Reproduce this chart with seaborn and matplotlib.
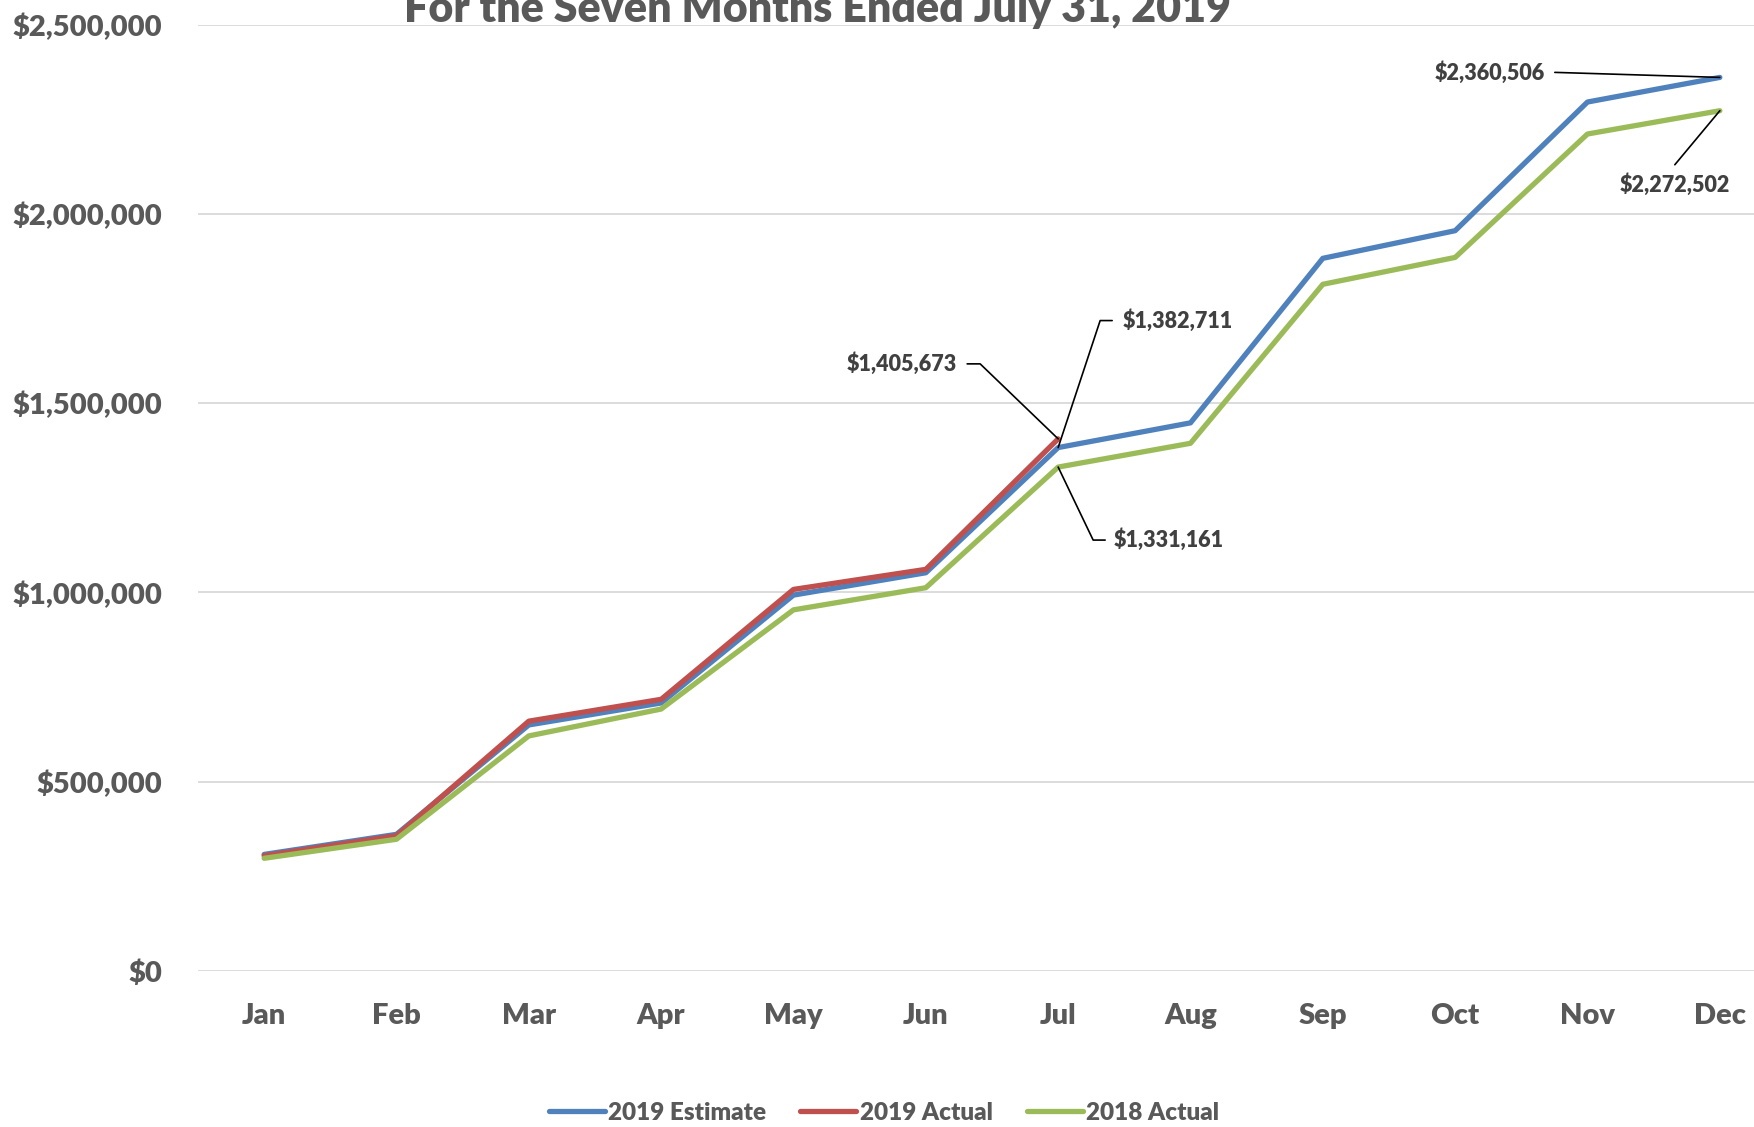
import math
import numpy as np
import pandas as pd
import matplotlib
matplotlib.use('Agg')
import matplotlib.pyplot as plt
from matplotlib.lines import Line2D
import seaborn as sns

# -- data --
MONTHS = ["Jan", "Feb", "Mar", "Apr", "May", "Jun",
          "Jul", "Aug", "Sep", "Oct", "Nov", "Dec"]
EST_2019 = [308000, 361000, 650000, 708000, 993000, 1052000,
            1382711, 1448000, 1882600, 1955600, 2295500, 2360506]
ACT_2019 = [304600, 357500, 660000, 717700, 1008000, 1061000, 1405673]
ACT_2018 = [297700, 348000, 621000, 692000, 954000, 1012500,
            1331161, 1394000, 1814000, 1885000, 2211000, 2272502]
SERIES = ["2019 Estimate", "2019 Actual", "2018 Actual"]
Y_TICKS = [0, 500000, 1000000, 1500000, 2000000, 2500000]
TITLE = "For the Seven Months Ended July 31, 2019"

COLORS = {
    "2019 Estimate": "#4F81BD",
    "2019 Actual":   "#C0504D",
    "2018 Actual":   "#9BBB59",
}
TXT = "#595959"
FONT = ["Lato", "DejaVu Sans"]

rows = []
for name, vals in zip(SERIES, [EST_2019, ACT_2019, ACT_2018]):
    for m, v in zip(MONTHS, vals):
        rows.append({"month": m, "value": v, "series": name})
df = pd.DataFrame(rows)

sns.set_theme(style="white")
plt.rcParams['font.family'] = FONT

fig = plt.figure(figsize=(17.54, 11.27), dpi=100)
ax = fig.add_axes([0.11288, 0.13842, 0.90536, 0.83975])

sns.lineplot(data=df, x="month", y="value", hue="series", hue_order=SERIES,
             palette=COLORS, linewidth=3.8, sort=False, ax=ax, legend=False,
             solid_capstyle="round")

ax.set_xlim(-0.5, len(MONTHS) - 0.5)
ax.set_ylim(Y_TICKS[0], Y_TICKS[-1])
ax.set_yticks(Y_TICKS)
ax.set_yticklabels([f"${v:,.0f}" for v in Y_TICKS])
ax.set_xticks(range(len(MONTHS)))
ax.set_xticklabels(MONTHS)
ax.set_xlabel("")
ax.set_ylabel("")
for lbl in ax.get_xticklabels() + ax.get_yticklabels():
    lbl.set_fontweight("heavy")
    lbl.set_color(TXT)
    lbl.set_fontsize(21)
ax.tick_params(axis="x", length=0, pad=23)
ax.tick_params(axis="y", length=0, pad=26)
for s in ax.spines.values():
    s.set_visible(False)
ax.yaxis.grid(True, color="#d9d9d9", linewidth=1.3)
ax.set_axisbelow(True)


def callout(i, val, text, ex, ey, sx, ha, gap=10):
    # leader from data point to elbow (ex, ey), then a short flat stub to sx
    ang = math.degrees(math.atan2(ey, ex))
    ax.annotate("", xy=(i, val), xytext=(sx, ey), textcoords="offset pixels",
                arrowprops=dict(arrowstyle="-", color="black", lw=1.2,
                                shrinkA=0, shrinkB=0,
                                connectionstyle=f"angle,angleA=0,angleB={ang},rad=0"))
    tx = sx - gap if ha == "right" else sx + gap
    ax.annotate(text, xy=(i, val), xytext=(tx, ey), textcoords="offset pixels",
                ha=ha, va="center", fontsize=15.5, fontweight="heavy",
                color="#404040")


jul = MONTHS.index("Jul")
dec = MONTHS.index("Dec")
callout(jul, ACT_2019[jul], f"${ACT_2019[jul]:,}", -78, 75, -91, "right")
callout(jul, EST_2019[jul], f"${EST_2019[jul]:,}", 42, 127, 54, "left")
callout(jul, ACT_2018[jul], f"${ACT_2018[jul]:,}", 35, -73, 47, "left", gap=8)
callout(dec, EST_2019[dec], f"${EST_2019[dec]:,}", -164, 5, -165, "right")
# label under the line end for the 2018 December value
ax.annotate("", xy=(dec, ACT_2018[dec]), xytext=(-45, -54),
            textcoords="offset pixels",
            arrowprops=dict(arrowstyle="-", color="black", lw=1.2,
                            shrinkA=0, shrinkB=0))
ax.annotate(f"${ACT_2018[dec]:,}", xy=(dec, ACT_2018[dec]), xytext=(-45, -74),
            textcoords="offset pixels", ha="center", va="center",
            fontsize=15.5, fontweight="heavy", color="#404040")

fig.text(817 / 1754, 1 - 22 / 1127, TITLE, ha="center", va="baseline",
         fontsize=31, fontweight="heavy", color=TXT)

handles = [Line2D([0], [0], color=COLORS[s], lw=3.8, solid_capstyle="round")
           for s in SERIES]
leg = fig.legend(handles, SERIES, loc="center", ncol=3, frameon=False,
                 bbox_to_anchor=(884 / 1754, 1 - 1113 / 1127),
                 handlelength=2.3, handletextpad=0.15, columnspacing=1.4,
                 prop={"family": FONT, "weight": "heavy", "size": 17.5})
for t in leg.get_texts():
    t.set_color(TXT)

fig.savefig("out.png", dpi=100)
